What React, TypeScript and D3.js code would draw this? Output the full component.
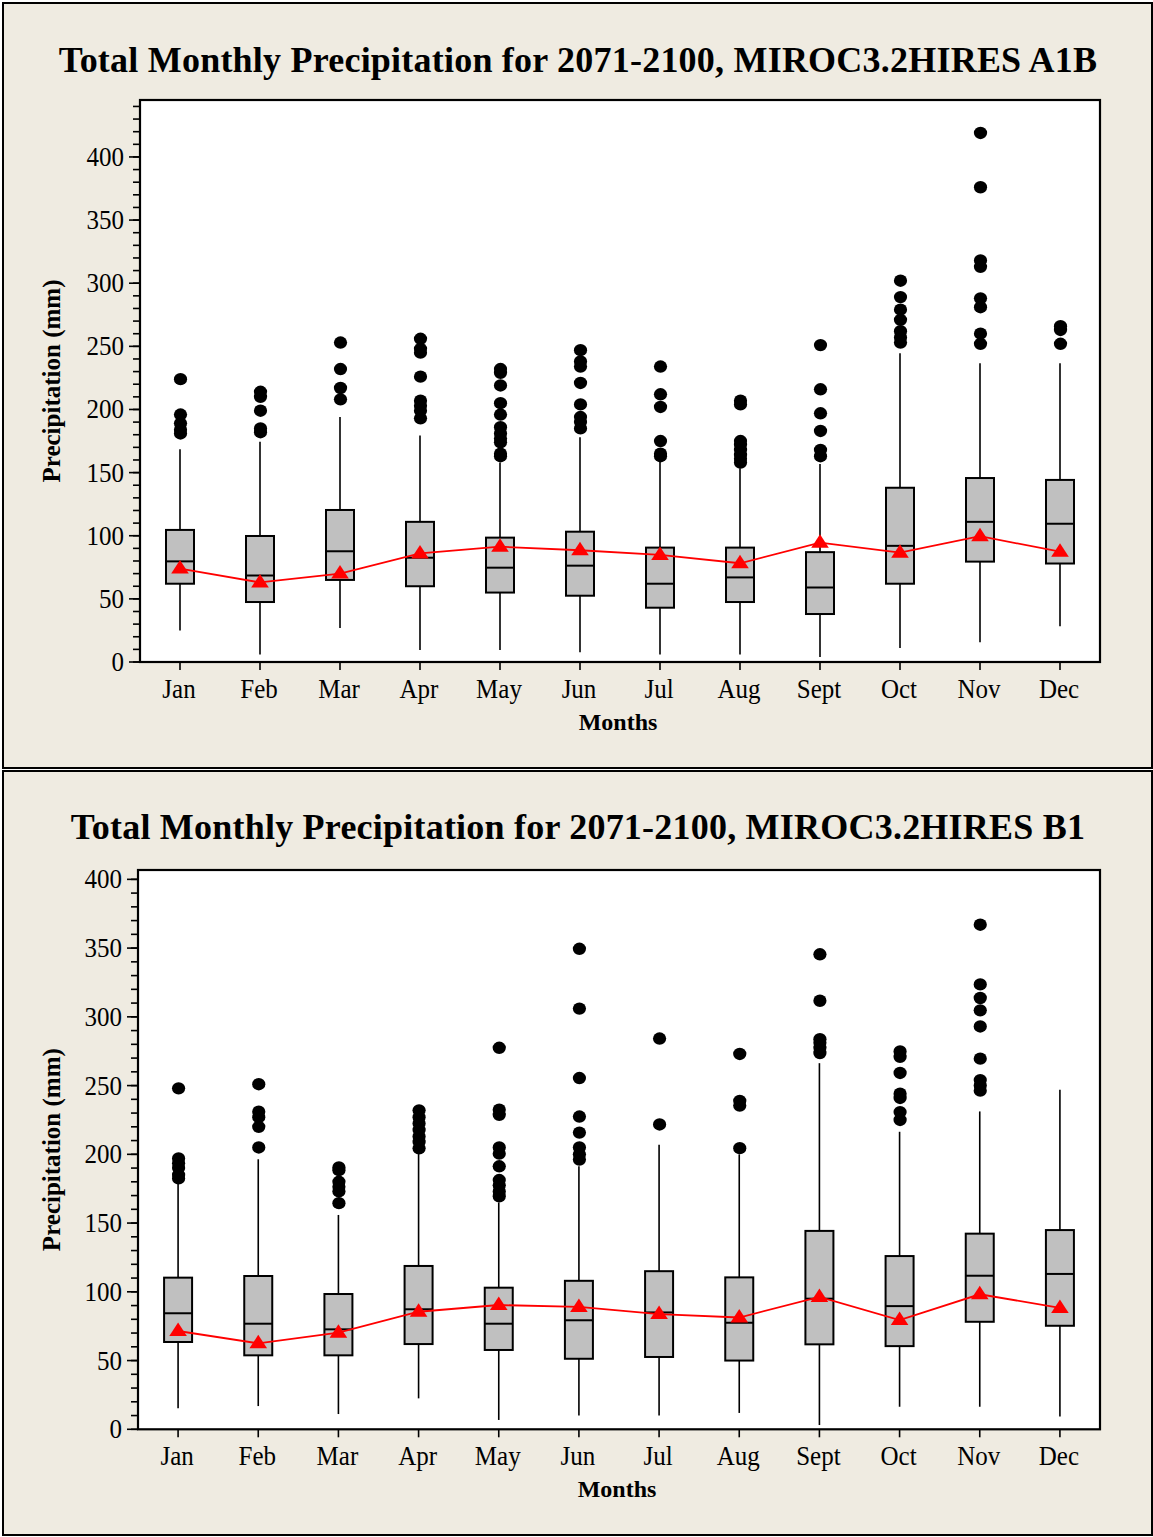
import React from "react";
import * as d3 from "d3";

const months = ["Jan", "Feb", "Mar", "Apr", "May", "Jun", "Jul", "Aug", "Sept", "Oct", "Nov", "Dec"];

// A1B scenario
const a1bLow = [25, 6, 27, 9.5, 9.5, 7.7, 6, 6, 4, 11, 15.6, 28.4];
const a1bQ1 = [62, 47.5, 65, 60, 55, 52.5, 43, 47.5, 38, 62, 79.5, 78];
const a1bMedian = [79.7, 68.5, 87.7, 82.6, 74.7, 76.3, 62, 67, 59, 92, 111, 109.5];
const a1bQ3 = [104.6, 99.8, 120.4, 111, 98.5, 103.2, 90.6, 90.6, 87, 138, 145.7, 144.2];
const a1bHigh = [168.5, 174.5, 194, 179.3, 158, 178, 158.7, 153.4, 156.8, 244.5, 236.6, 236.6];
const a1bMean = [74, 63, 70, 86, 91.3, 88.5, 84.8, 78.2, 94.5, 86.6, 99.6, 87.4];
const a1bOutliers = [
  [224, 196, 189, 184, 181],
  [214, 210, 199, 185, 182],
  [253, 232, 217, 208],
  [256, 248, 245, 226, 207, 203, 199, 193],
  [232, 229, 219, 205, 196, 186, 181, 177, 174, 165, 163],
  [247, 238, 234, 221, 204, 194, 190, 185],
  [234, 212, 202, 175, 165, 163],
  [207, 204, 175, 172, 168, 164, 161, 158],
  [251, 216, 197, 183, 168, 163],
  [302, 289, 279, 271, 262, 257, 253],
  [419, 376, 318, 313, 288, 281, 260, 252],
  [266, 263, 252],
];

// B1 scenario
const b1Low = [15.3, 16.9, 11.1, 22.5, 6.8, 10, 10, 11.9, 3.1, 16.4, 16.4, 9.4];
const b1Q1 = [63.5, 53.8, 53.8, 62, 57.7, 51.3, 52.6, 50, 61.8, 60.5, 78.2, 75.3];
const b1Median = [84.4, 76.8, 72.7, 87.3, 76.8, 79.3, 85, 77.5, 95, 89.6, 111.7, 113];
const b1Q3 = [110.3, 111.5, 98.4, 118.8, 103, 108, 115, 110.5, 144.3, 126, 142.3, 144.9];
const b1High = [178.9, 196.4, 155.9, 200.2, 165, 191.3, 207, 200, 266.3, 216.4, 231.2, 247];
const b1Mean = [71.5, 62.5, 70.3, 85.5, 90.4, 89, 83.8, 81.3, 96.3, 79.5, 98.2, 88.3];
const b1Outliers = [
  [248, 197, 193.5, 190, 185, 182.5],
  [251, 231, 227, 220, 205],
  [190.5, 188.5, 180, 176.5, 173, 164.5],
  [232, 227, 222.5, 217.7, 213, 209, 204.4],
  [277.5, 232.5, 228.7, 205, 200.5, 191.3, 181.3, 177.5, 173, 169.5],
  [349.5, 306, 255.5, 227.5, 215.8, 205, 200, 196.2],
  [284.2, 221.7],
  [273, 238.8, 235.5, 204.5],
  [345.5, 311.7, 283.7, 281.2, 277.5, 273.7],
  [274.8, 270.9, 259.2, 244.1, 241, 230.7, 225],
  [367, 323.6, 313.7, 304.7, 293, 269.6, 254, 250.1, 246.3],
  [],
];

const titleA1B = "Total Monthly Precipitation for 2071-2100, MIROC3.2HIRES A1B";
const titleB1 = "Total Monthly Precipitation for 2071-2100, MIROC3.2HIRES B1";
const yLabel = "Precipitation (mm)";
const xLabel = "Months";

const FONT = "'Liberation Serif', 'Times New Roman', Times, serif";
const BG = "#efebe1";

type PanelProps = {
  title: string;
  frame: [number, number, number, number];
  plot: { x0: number; x1: number; y0: number; y1: number };
  yMax: number;
  titleY: number;
  low: number[];
  q1: number[];
  median: number[];
  q3: number[];
  high: number[];
  mean: number[];
  outliers: number[][];
};

function Panel(p: PanelProps) {
  const { x0, x1, y0, y1 } = p.plot;
  const y = d3.scaleLinear().domain([0, p.yMax]).range([y1, y0]);
  const x = d3.scaleBand().domain(months).range([x0, x1]).padding(0);
  const cx = (m: string) => (x(m) as number) + x.bandwidth() / 2;
  const half = 14;
  const minor = d3.range(0, p.yMax, 10);
  const major = d3.range(0, p.yMax, 50);
  const meanLine = d3
    .line<number>()
    .x((_, i) => cx(months[i]))
    .y((d) => y(d));
  const tri = "M0,-8.5L8.8,5L-8.8,5Z";
  const plotMidY = (y0 + y1) / 2;
  const plotMidX = (x0 + x1) / 2;

  return (
    <g>
      <rect x={p.frame[0]} y={p.frame[1]} width={p.frame[2]} height={p.frame[3]} fill={BG} stroke="#000" strokeWidth={2} />
      <text
        x={578}
        y={p.titleY}
        textAnchor="middle"
        fontFamily={FONT}
        fontWeight="bold"
        fontSize={36}
        letterSpacing={0.22}
        fill="#000"
      >
        {p.title}
      </text>
      <rect x={x0} y={y0} width={x1 - x0} height={y1 - y0} fill="#fff" />
      {months.map((m, i) => {
        const c = cx(m);
        return (
          <g key={m}>
            <line x1={c} x2={c} y1={y(p.low[i])} y2={y(p.q1[i])} stroke="#000" strokeWidth={1.6} />
            <line x1={c} x2={c} y1={y(p.q3[i])} y2={y(p.high[i])} stroke="#000" strokeWidth={1.6} />
            <rect
              x={c - half}
              y={y(p.q3[i])}
              width={half * 2}
              height={y(p.q1[i]) - y(p.q3[i])}
              fill="#c0c0c0"
              stroke="#000"
              strokeWidth={2}
            />
            <line x1={c - half} x2={c + half} y1={y(p.median[i])} y2={y(p.median[i])} stroke="#000" strokeWidth={2} />
            {p.outliers[i].map((v, j) => (
              <ellipse key={j} cx={c + 0.5} cy={y(v)} rx={6.6} ry={6.2} fill="#000" />
            ))}
          </g>
        );
      })}
      <path d={meanLine(p.mean) || ""} fill="none" stroke="#ff0000" strokeWidth={1.8} />
      {p.mean.map((v, i) => (
        <path key={i} d={tri} transform={`translate(${cx(months[i])},${y(v)})`} fill="#ff0000" />
      ))}
      <rect x={x0} y={y0} width={x1 - x0} height={y1 - y0} fill="none" stroke="#000" strokeWidth={2.2} />
      {minor.map((v) => (
        <line key={"mi" + v} x1={x0 - 7} x2={x0} y1={y(v)} y2={y(v)} stroke="#000" strokeWidth={1.6} />
      ))}
      {major.map((v) => (
        <g key={"ma" + v}>
          <line x1={x0 - 11} x2={x0} y1={y(v)} y2={y(v)} stroke="#000" strokeWidth={1.6} />
          <text
            transform={`translate(${x0 - 16},${y(v) + 9}) scale(1,1.08)`}
            textAnchor="end"
            fontFamily={FONT}
            fontSize={25}
            fill="#000"
          >
            {v}
          </text>
        </g>
      ))}
      {months.map((m) => (
        <g key={"xt" + m}>
          <line x1={cx(m)} x2={cx(m)} y1={y1} y2={y1 + 8} stroke="#000" strokeWidth={1.6} />
          <text
            transform={`translate(${cx(m) - 1},${y1 + 36}) scale(1,1.08)`}
            textAnchor="middle"
            fontFamily={FONT}
            fontSize={25}
            fill="#000"
          >
            {m}
          </text>
        </g>
      ))}
      <text x={plotMidX - 2} y={y1 + 68} textAnchor="middle" fontFamily={FONT} fontWeight="bold" fontSize={24} fill="#000">
        {xLabel}
      </text>
      <text
        transform={`translate(60,${plotMidY}) rotate(-90)`}
        textAnchor="middle"
        fontFamily={FONT}
        fontWeight="bold"
        fontSize={25}
        fill="#000"
      >
        {yLabel}
      </text>
    </g>
  );
}

export default function App() {
  return (
    <div style={{ position: "absolute", left: 0, top: 0 }}>
      <svg width={1153} height={1537} viewBox="0 0 1153 1537" style={{ display: "block" }}>
        <rect x={0} y={0} width={1153} height={1537} fill="#fff" />
        <Panel
          title={titleA1B}
          frame={[3, 3, 1149, 765]}
          plot={{ x0: 140, x1: 1100, y0: 100, y1: 662 }}
          yMax={445.1}
          titleY={72}
          low={a1bLow}
          q1={a1bQ1}
          median={a1bMedian}
          q3={a1bQ3}
          high={a1bHigh}
          mean={a1bMean}
          outliers={a1bOutliers}
        />
        <Panel
          title={titleB1}
          frame={[3, 771, 1149, 764]}
          plot={{ x0: 138, x1: 1100, y0: 870, y1: 1429.3 }}
          yMax={406.8}
          titleY={839}
          low={b1Low}
          q1={b1Q1}
          median={b1Median}
          q3={b1Q3}
          high={b1High}
          mean={b1Mean}
          outliers={b1Outliers}
        />
      </svg>
    </div>
  );
}
